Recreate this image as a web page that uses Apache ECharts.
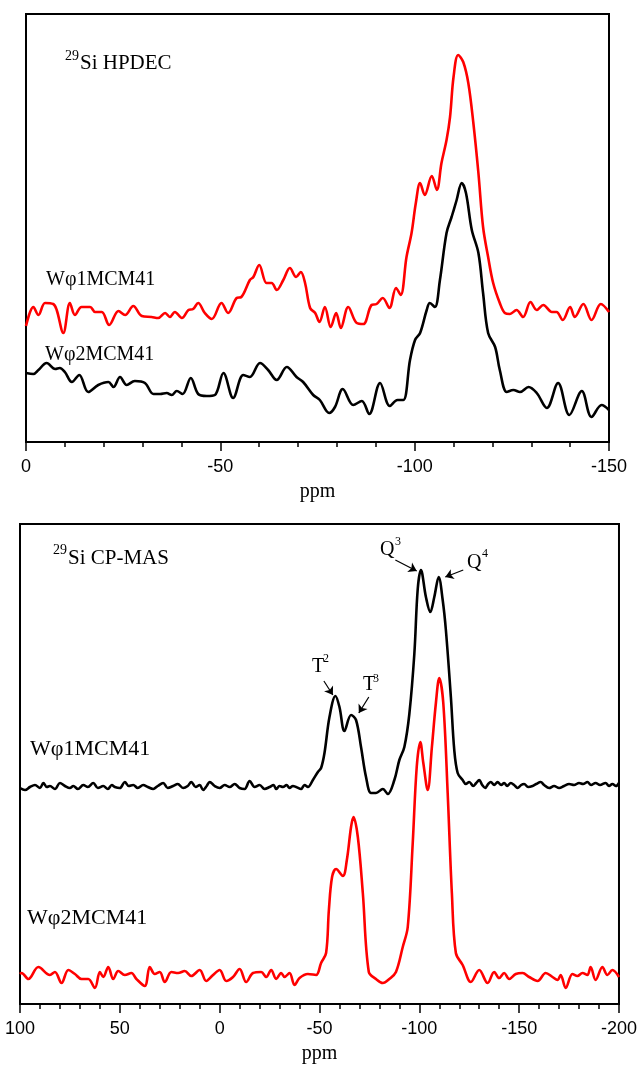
<!DOCTYPE html>
<html>
<head>
<meta charset="utf-8">
<title>29Si NMR spectra</title>
<script src="https://cdn.jsdelivr.net/npm/echarts@6/dist/echarts.min.js"></script>
<style>
html, body { margin: 0; padding: 0; background: #fff; }
#main { width: 640px; height: 1067px; }
</style>
</head>
<body>
<div id="main"></div>
<script>
// ---- top panel: 29Si HPDEC (intensity in arbitrary units) ----
var hpdecRedPpm = [0, -1.9, -3.2, -4.9, -7.0, -7.9, -9.6, -11.3, -12.6, -14.3, -16.5, -17.8, -19.5, -21.4, -23.8, -25.5, -27.6, -29.8, -32.3, -34.0,
  -35.8, -37.0, -38.3, -40.1, -41.8, -43.0, -44.3, -46.0, -47.8, -50.3, -52.0, -54.2, -55.4, -57.6, -58.5, -60.0, -61.9, -63.2, -64.5, -66.2,
  -67.9, -69.5, -70.7, -71.8, -73.1, -74.4, -75.5, -76.9, -78.4, -79.8, -81.0, -82.9, -85.1, -86.8, -88.9, -90.2, -91.8, -93.5, -95.2, -96.4,
  -97.9, -99.2, -100.3, -101.4, -102.6, -104.4, -105.7, -106.9, -108.2, -109.1, -110.0, -111.2, -112.5, -113.8, -115.1, -116.4, -117.6, -118.9, -120.2, -121.9,
  -123.2, -124.5, -126.2, -127.9, -129.8, -131.4, -133.1, -135.3, -136.5, -138.1, -140.0, -141.2, -143.4, -145.5, -147.9, -150];
var hpdecRedInt = [116, 135, 127, 139, 138, 132, 109, 139, 127, 135, 135, 130, 130, 117, 131, 127, 136, 126, 125, 124,
  129, 125, 130, 124, 132, 133, 139, 129, 123, 139, 129, 144, 145, 162, 165, 177, 159, 159, 152, 162,
  174, 165, 170, 159, 134, 129, 120, 135, 115, 129, 114, 135, 119, 118, 137, 138, 144, 134, 154, 147,
  185, 209, 239, 259, 247, 266, 252, 279, 302, 325, 365, 387, 380, 359, 319, 269, 215, 185, 159, 139,
  129, 128, 132, 125, 140, 132, 137, 130, 130, 122, 135, 125, 138, 122, 138, 130];

var hpdecBlackPpm = [0, -1.9, -3.2, -5.3, -7.5, -8.7, -10.0, -11.8, -13.7, -16.0, -18.6, -21.2, -22.5, -24.2, -25.9, -28.0, -30.6, -32.8, -34.5, -36.2,
  -37.5, -38.8, -40.3, -42.4, -44.3, -46.5, -48.6, -50.8, -53.3, -55.9, -57.6, -60.2, -62.3, -64.5, -67.1, -69.6, -71.3, -73.9, -75.6, -78.0,
  -79.5, -81.5, -84.2, -86.4, -88.3, -91.1, -93.6, -95.6, -97.1, -98.8, -100.1, -101.4, -103.1, -103.9, -105.2, -106.5, -108.2, -109.5, -110.8, -112.1,
  -113.2, -114.7, -116.4, -117.6, -118.9, -120.7, -121.9, -123.7, -125.4, -127.1, -129.3, -131.4, -134.0, -136.9, -139.8, -143.0, -145.5, -148.1, -150];
var hpdecBlackInt = [69, 68, 72, 79, 73, 74, 70, 60, 67, 50, 57, 60, 55, 65, 57, 61, 59, 48, 48, 49,
  47, 51, 48, 64, 48, 46, 47, 69, 44, 67, 65, 79, 72, 62, 75, 65, 60, 47, 42, 29,
  35, 53, 37, 41, 28, 59, 36, 42, 42, 82, 102, 109, 132, 139, 135, 162, 209, 225, 242, 259,
  249, 212, 189, 149, 109, 95, 72, 50, 52, 50, 55, 49, 34, 59, 27, 51, 25, 37, 32];

// ---- bottom panel: 29Si CP-MAS ----
var cpBlackPpm = [100, 97.5, 95, 92.5, 90, 88.3, 86.5, 85, 82.5, 80, 77.5, 75, 73.3, 71, 68.3, 66, 63.3, 61, 58.3, 56,
  54, 52.5, 50, 47.5, 45.5, 43.3, 41, 38.3, 36, 33.3, 31, 28.3, 26, 23.3, 21, 18.3, 16, 14.2, 12, 10,
  8.3, 6.5, 5, 2.5, 0, -2.5, -5, -7.5, -10, -12.5, -15, -17.5, -20, -22.5, -25, -27, -28.3, -30, -31.7, -33.5,
  -35, -36.7, -38.3, -40.8, -42.5, -44.2, -46.7, -49.2, -50.8, -52.5, -55, -58, -60, -62.5, -65.8, -68.3, -70.8, -73.3, -75.8, -78.3,
  -81.7, -84.2, -87.5, -90, -92.5, -95, -97.5, -99.2, -100.8, -103.3, -105.5, -107.5, -109.7, -111.7, -113.3, -115.8, -117.5, -119.2, -121.7, -123.3,
  -125, -127, -128.5, -130, -131.5, -133, -134.5, -135.8, -137.5, -139.2, -141, -142.5, -144, -145.8, -147.5, -149.2, -151, -152.5, -154.5, -156.7,
  -158.5, -160.8, -162.5, -165, -167.5, -170, -172.5, -175, -177.5, -180, -182, -184.2, -186, -188.3, -190.5, -193.3, -195, -196.7, -198.5, -200];
var cpBlackInt = [216, 214, 217, 219, 216, 221, 217, 218, 215, 221, 218, 216, 218, 215, 219, 217, 221, 216, 218, 215,
  219, 217, 216, 222, 218, 219, 216, 219, 217, 215, 218, 221, 216, 218, 220, 216, 218, 222, 217, 219,
  214, 218, 222, 218, 216, 219, 217, 220, 216, 215, 223, 217, 219, 215, 217, 219, 215, 218, 217, 219,
  216, 218, 217, 215, 219, 217, 224, 232, 236, 251, 287, 308, 297, 273, 289, 284, 257, 227, 211, 211,
  215, 210, 224, 244, 257, 290, 350, 415, 434, 407, 392, 407, 427, 404, 374, 307, 254, 231, 224, 220,
  222, 218, 221, 224, 219, 216, 220, 222, 219, 222, 219, 221, 218, 221, 219, 216, 219, 220, 217, 218,
  220, 222, 219, 216, 218, 216, 218, 220, 219, 221, 220, 222, 219, 221, 219, 221, 218, 220, 218, 221];

var cpRedPpm = [100, 99.2, 95.8, 90.8, 85, 82.5, 79.2, 75.8, 72.5, 69.2, 65.8, 62.5, 60, 58.3, 55.8, 53.3, 50.8, 47.5, 44.2, 41.7,
  37.5, 35, 32.5, 30, 27.5, 24.2, 20.8, 17.5, 14.2, 10, 6.7, 3.3, 0, -3.3, -6.7, -10, -13.3, -16.7, -20.8, -23.3,
  -25.8, -28.3, -30.8, -32.5, -35, -37.5, -40, -44.2, -48.3, -50.8, -53.3, -54.7, -56.3, -58.3, -61.7, -63.7, -65.8, -67, -69.2, -71.7,
  -74.7, -78.3, -81.7, -85, -88.3, -91.7, -94.2, -96.7, -98.7, -100.5, -102, -104.2, -106.3, -108.3, -110, -112, -114.2, -116.3, -118.3, -121.7,
  -125.8, -130, -134.2, -137.5, -140, -142.5, -145, -148.3, -151.7, -155, -159.2, -163.3, -166.7, -169.2, -170.8, -173.3, -176.7, -179.2, -181.7, -184.2,
  -185.8, -188.3, -191.7, -194.2, -196.7, -200];
var cpRedInt = [30, 31, 25, 37, 29, 32, 21, 34, 30, 25, 25, 16, 32, 27, 37, 25, 33, 29, 31, 25,
  18, 37, 30, 32, 22, 32, 31, 33, 28, 34, 23, 29, 34, 23, 27, 35, 22, 31, 32, 27,
  34, 25, 31, 27, 31, 19, 26, 30, 29, 41, 51, 94, 127, 135, 128, 144, 177, 187, 167, 111,
  32, 25, 21, 25, 32, 57, 77, 161, 237, 262, 241, 214, 257, 301, 326, 301, 211, 111, 51, 39,
  22, 34, 21, 32, 26, 31, 25, 30, 31, 27, 23, 31, 27, 24, 29, 16, 30, 28, 31, 29,
  37, 24, 37, 29, 34, 27];

// arrows to the T2, T3, Q3, Q4 peaks, [from, to] in [ppm, intensity]
var peakArrows = [
  [[-52.2, 323], [-56.7, 309]],
  [[-74.7, 307], [-69.7, 291]],
  [[-88, 444], [-98.7, 433]],
  [[-122, 434], [-113, 427]]
];

var RED = '#ff0000', BLACK = '#000000';
var SERIF = '"Liberation Serif", "Times New Roman", serif';
var SANS = '"Liberation Sans", Arial, sans-serif';

function pairs(xs, ys) {
  return xs.map(function (x, i) { return [x, ys[i]]; });
}

function xAxisFor(gridIndex, min, max) {
  return {
    type: 'value', gridIndex: gridIndex, min: min, max: max, interval: 50, inverse: true,
    name: 'ppm', nameLocation: 'middle', nameGap: 40,
    nameTextStyle: { fontFamily: SERIF, fontSize: 20, color: '#000' },
    axisLine: { onZero: false, lineStyle: { color: '#000', width: 2 } },
    axisTick: { show: true, inside: false, length: 9, lineStyle: { color: '#000', width: 1.5 } },
    minorTick: { show: true, splitNumber: 5, length: 5, lineStyle: { color: '#000', width: 1.5 } },
    axisLabel: { margin: 16, fontFamily: SANS, fontSize: 18, color: '#000' },
    splitLine: { show: false }
  };
}

function yAxisFor(gridIndex, max) {
  return {
    type: 'value', gridIndex: gridIndex, min: 0, max: max,
    axisLine: { show: true, onZero: false, lineStyle: { color: '#000', width: 2 } },
    axisTick: { show: false }, axisLabel: { show: false }, splitLine: { show: false }
  };
}

function lineSeries(name, idx, xs, ys, color) {
  return {
    name: name, type: 'line', xAxisIndex: idx, yAxisIndex: idx,
    data: pairs(xs, ys), symbol: 'none', smooth: 0.35,
    lineStyle: { color: color, width: 2.6 }, itemStyle: { color: color }
  };
}

function txt(x, y, s, size) {
  return {
    type: 'text', x: x, y: y, silent: true,
    style: { text: s, fontFamily: SERIF, fontSize: size, fill: '#000', verticalAlign: 'middle', align: 'left' }
  };
}

var cpBlack = lineSeries('Wφ1MCM41 CP-MAS', 1, cpBlackPpm, cpBlackInt, BLACK);
cpBlack.markLine = {
  silent: true, symbol: ['none', 'arrow'], symbolSize: 8,
  lineStyle: { color: '#000', width: 1.2, type: 'solid' },
  label: { show: false },
  data: peakArrows.map(function (a) { return [{ coord: a[0] }, { coord: a[1] }]; })
};

var chart = echarts.init(document.getElementById('main'));
chart.setOption({
  animation: false,
  backgroundColor: '#fff',
  grid: [
    { left: 26, right: 31, top: 14, height: 428, show: true, borderColor: '#000', borderWidth: 2 },
    { left: 20, right: 20, top: 524, height: 480, show: true, borderColor: '#000', borderWidth: 2 }
  ],
  xAxis: [xAxisFor(0, -150, 0), xAxisFor(1, -200, 100)],
  yAxis: [yAxisFor(0, 428), yAxisFor(1, 480)],
  series: [
    lineSeries('Wφ1MCM41 HPDEC', 0, hpdecRedPpm, hpdecRedInt, RED),
    lineSeries('Wφ2MCM41 HPDEC', 0, hpdecBlackPpm, hpdecBlackInt, BLACK),
    cpBlack,
    lineSeries('Wφ2MCM41 CP-MAS', 1, cpRedPpm, cpRedInt, RED)
  ],
  graphic: [
    txt(65, 56, '29', 14), txt(80, 63, 'Si HPDEC', 21),
    txt(46, 280, 'Wφ1MCM41', 20),
    txt(45, 355, 'Wφ2MCM41', 20),
    txt(53, 550, '29', 14), txt(68, 558, 'Si CP-MAS', 21),
    txt(30, 749, 'Wφ1MCM41', 22),
    txt(27, 918, 'Wφ2MCM41', 22),
    txt(312, 667, 'T', 20), txt(323, 659, '2', 12),
    txt(363, 685, 'T', 20), txt(373, 679, '3', 12),
    txt(380, 550, 'Q', 20), txt(395, 542, '3', 12),
    txt(467, 563, 'Q', 20), txt(482, 554, '4', 12)
  ]
});
</script>
</body>
</html>
